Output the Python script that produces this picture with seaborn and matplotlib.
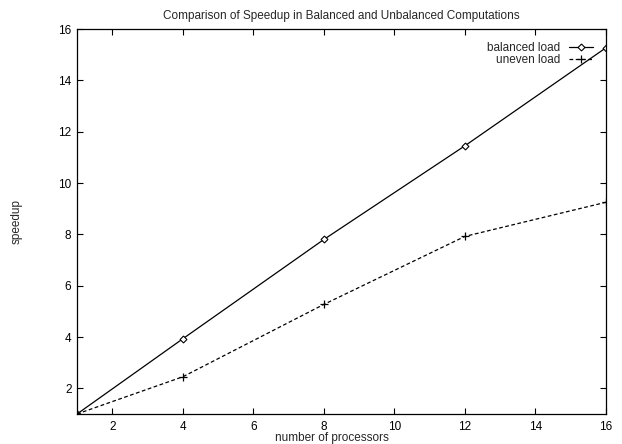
import matplotlib
matplotlib.use("Agg")
import matplotlib.pyplot as plt
import seaborn as sns
import pandas as pd

processors = [1, 4, 8, 12, 16]
balanced = [1.0, 3.93, 7.80, 11.45, 15.27]
uneven = [1.0, 2.45, 5.27, 7.92, 9.25]
xticks = [2, 4, 6, 8, 10, 12, 14, 16]
yticks = [2, 4, 6, 8, 10, 12, 14, 16]

sns.set_theme(style="ticks")
plt.rcParams['font.family'] = ['Liberation Sans', 'DejaVu Sans']
FS = 8.5
plt.rcParams['font.size'] = FS

df = pd.DataFrame({
    "processors": processors * 2,
    "speedup": balanced + uneven,
    "series": ["balanced load"] * len(processors) + ["uneven load"] * len(processors),
})

fig = plt.figure(figsize=(6.22, 4.44), dpi=100)
ax = fig.add_axes([77 / 622, 1 - 414 / 444, 529 / 622, 385 / 444])

sns.lineplot(data=df[df.series == "balanced load"], x="processors", y="speedup",
             color="black", lw=0.9, marker="D", markersize=3.5, markerfacecolor="white",
             markeredgecolor="black", markeredgewidth=0.8, label="balanced load", ax=ax)
sns.lineplot(data=df[df.series == "uneven load"], x="processors", y="speedup",
             color="black", lw=0.9, marker="+", markersize=6, markeredgewidth=0.9,
             markeredgecolor="black", label="uneven load", ax=ax)
ax.lines[1].set_dashes([3, 2])

ax.set_xlim(1, 16)
ax.set_ylim(1, 16)
ax.set_xticks(xticks)
ax.set_yticks(yticks)
ax.tick_params(direction="in", length=4, width=0.8, top=True, right=True,
               labelsize=FS, colors="black")
ax.tick_params(axis="x", pad=5)
ax.tick_params(axis="y", pad=4)
for s in ax.spines.values():
    s.set_visible(True)
    s.set_linewidth(0.9)
    s.set_color("black")

ax.set_title("Comparison of Speedup in Balanced and Unbalanced Computations",
             fontsize=FS, pad=7)
ax.set_xlabel("number of processors", fontsize=FS)
ax.set_ylabel("speedup", fontsize=FS)
ax.xaxis.set_label_coords(0.482, -0.046)
ax.yaxis.set_label_coords(-0.103, 0.5)

leg = ax.legend(loc="upper right", bbox_to_anchor=(0.9754, 0.966), frameon=False,
                markerfirst=False, borderaxespad=0, borderpad=0, labelspacing=0.02,
                handlelength=2.0, handletextpad=0.8, fontsize=FS)
for h in leg.legend_handles:
    h.set_markeredgecolor("black")

fig.savefig("out.png", dpi=100)
